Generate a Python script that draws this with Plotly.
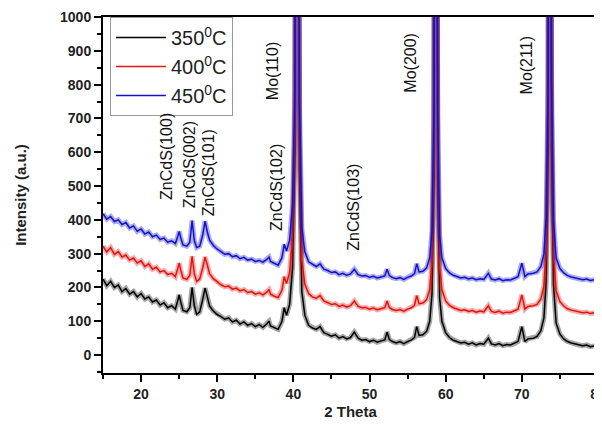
import plotly.graph_objects as go

two_theta = [
    15.0, 15.5, 16.0, 16.5, 17.0, 17.5, 18.0, 18.5, 19.0, 19.5,
    20.0, 20.5, 21.0, 21.5, 22.0, 22.5, 23.0, 23.5, 24.0, 24.5,
    24.8, 25.0, 25.2, 25.5, 26.0, 26.4, 26.7, 27.0, 27.3, 27.7,
    28.1, 28.4, 28.7, 29.0, 29.5, 30.0, 30.5, 31.0, 31.5, 32.0,
    32.5, 33.0, 33.5, 34.0, 34.5, 35.0, 35.5, 36.0, 36.5, 36.8,
    37.0, 37.5, 38.0, 38.5, 38.8, 39.1, 39.5, 39.9, 40.2, 40.5,
    40.8, 41.1, 41.5, 42.0, 42.5, 43.0, 43.5, 44.0, 44.5, 45.0,
    45.5, 46.0, 46.5, 47.0, 47.5, 48.0, 48.5, 49.0, 49.5, 50.0,
    50.5, 51.0, 51.5, 52.0, 52.3, 52.6, 53.0, 53.5, 54.0, 54.5,
    55.0, 55.5, 55.9, 56.2, 56.5, 57.0, 57.5, 57.9, 58.2, 58.45,
    58.7, 58.95, 59.2, 59.5, 60.0, 60.5, 61.0, 61.5, 62.0, 62.5,
    63.0, 63.5, 64.0, 64.5, 65.0, 65.6, 66.0, 66.5, 67.0, 67.5,
    68.0, 68.5, 69.0, 69.5, 70.0, 70.4, 70.8, 71.5, 72.0, 72.5,
    72.9, 73.2, 73.45, 73.66, 73.9, 74.15, 74.5, 75.0, 75.5, 76.0,
    76.5, 77.0, 77.5, 78.0, 78.5, 79.0, 79.5, 80.0,
]

intensity_350 = [
    225, 205, 218, 200, 207, 188, 197, 180, 188, 172,
    182, 166, 172, 157, 163, 148, 155, 140, 146, 136,
    160, 178, 158, 132, 128, 140, 200, 145, 120, 128,
    165, 198, 172, 145, 130, 120, 114, 106, 110, 98,
    103, 92, 98, 88, 93, 84, 90, 82, 92, 100,
    86, 80, 76, 100, 140, 118, 150, 260, 600, 3200,
    560, 190, 118, 88, 80, 76, 84, 66, 62, 56,
    60, 50, 55, 48, 52, 68, 50, 44, 46, 40,
    44, 38, 42, 45, 68, 46, 40, 36, 40, 34,
    40, 45, 52, 84, 58, 60, 70, 100, 180, 520,
    3200, 520, 170, 100, 66, 52, 44, 40, 36, 38,
    32, 36, 30, 34, 32, 50, 33, 30, 34, 28,
    31, 30, 34, 40, 84, 40, 48, 50, 55, 72,
    110, 220, 620, 3200, 620, 210, 95, 62, 48, 40,
    36, 34, 30, 28, 30, 25, 27, 24,
]

intensity_400 = [
    322, 305, 318, 298, 306, 290, 296, 281, 287, 272,
    279, 262, 270, 254, 260, 246, 250, 238, 242, 232,
    255, 272, 252, 228, 224, 236, 292, 240, 218, 225,
    258, 290, 266, 240, 226, 216, 208, 202, 204, 195,
    198, 190, 194, 185, 188, 180, 184, 178, 186, 194,
    180, 174, 170, 192, 232, 212, 244, 352, 690, 3300,
    650, 282, 210, 182, 172, 168, 176, 160, 156, 150,
    152, 144, 148, 142, 146, 160, 144, 140, 141, 136,
    139, 134, 137, 140, 160, 141, 135, 132, 135, 130,
    136, 140, 147, 176, 152, 154, 164, 194, 272, 610,
    3300, 610, 262, 194, 160, 147, 140, 136, 132, 134,
    129, 132, 127, 130, 128, 146, 129, 126, 130, 124,
    127, 126, 130, 136, 178, 136, 144, 146, 150, 166,
    204, 312, 710, 3300, 710, 302, 190, 158, 145, 137,
    133, 131, 127, 125, 127, 123, 125, 122,
]

intensity_450 = [
    418, 402, 410, 395, 400, 386, 392, 376, 382, 366,
    373, 358, 364, 350, 355, 342, 346, 334, 338, 330,
    350, 366, 348, 326, 322, 334, 398, 338, 318, 322,
    356, 396, 364, 340, 324, 313, 306, 298, 300, 291,
    294, 285, 289, 281, 284, 277, 280, 275, 283, 290,
    277, 271, 266, 288, 328, 308, 340, 448, 790, 3400,
    750, 378, 306, 276, 268, 262, 270, 254, 250, 244,
    246, 238, 242, 236, 240, 254, 238, 234, 235, 230,
    233, 228, 231, 234, 254, 235, 229, 226, 229, 224,
    230, 234, 241, 270, 246, 248, 258, 288, 366, 710,
    3400, 710, 356, 288, 256, 243, 236, 232, 228, 230,
    225, 228, 223, 226, 224, 242, 225, 222, 226, 220,
    223, 222, 226, 232, 272, 232, 240, 242, 246, 262,
    300, 408, 810, 3400, 810, 398, 288, 256, 243, 235,
    231, 229, 225, 223, 225, 221, 223, 220,
]

series_names = ["350<sup>0</sup>C", "400<sup>0</sup>C", "450<sup>0</sup>C"]
series_colors = ["#000000", "#e3130f", "#1212cc"]

peak_labels = ["ZnCdS(100)", "ZnCdS(002)", "ZnCdS(101)", "ZnCdS(102)",
               "Mo(110)", "ZnCdS(103)", "Mo(200)", "Mo(211)"]
peak_label_x = [23.4, 26.3, 28.8, 37.7, 37.2, 47.8, 55.4, 70.6]
peak_label_y = [589, 562, 538, 497, 840, 438, 864, 858]

x_ticks = [20, 30, 40, 50, 60, 70, 80]
y_ticks = [0, 100, 200, 300, 400, 500, 600, 700, 800, 900, 1000]

FONT = "Arial, Liberation Sans, sans-serif"

fig = go.Figure()
for name, col, ys in zip(series_names, series_colors,
                         [intensity_350, intensity_400, intensity_450]):
    # soft halo imitating the noise band of the measured pattern
    fig.add_trace(go.Scatter(x=two_theta, y=ys, mode="lines", showlegend=False,
                             hoverinfo="skip", opacity=0.35,
                             line=dict(color=col, width=5)))
    fig.add_trace(go.Scatter(x=two_theta, y=ys, mode="lines", name=name,
                             line=dict(color=col, width=1.5)))

for txt, px, py in zip(peak_labels, peak_label_x, peak_label_y):
    fig.add_annotation(x=px, y=py, xref="x", yref="y", text=txt,
                       textangle=-90, showarrow=False,
                       xanchor="center", yanchor="middle",
                       font=dict(family=FONT, size=16, color="#111111"))

axis_common = dict(
    showline=True, linecolor="black", linewidth=2, mirror=True,
    ticks="outside", ticklen=7, tickwidth=2, tickcolor="black",
    showgrid=False, zeroline=False, automargin=False,
    ticklabeloverflow="allow",
    tickfont=dict(family=FONT, size=14, color="#222222", weight="bold"),
)

# the page body has an 8px margin, so the figure is drawn 8px right and down
fig.update_layout(
    width=594, height=417,
    margin=dict(l=95, r=4, t=9, b=52),
    plot_bgcolor="white", paper_bgcolor="white",
    showlegend=True,
    legend=dict(x=0.014, y=1.0, xanchor="left", yanchor="top",
                bgcolor="white", bordercolor="#999999", borderwidth=1,
                font=dict(family=FONT, size=20, color="#222222"),
                itemwidth=50, tracegroupgap=0),
    xaxis=dict(range=[15, 80], tickvals=x_ticks,
               minor=dict(dtick=5, ticks="outside", ticklen=4, tickwidth=2, tickcolor="black"),
               title=dict(text="<b>2 Theta</b>", font=dict(family=FONT, size=15, color="#222222"),
                          standoff=6),
               **axis_common),
    yaxis=dict(range=[-53, 1000], tickvals=y_ticks,
               minor=dict(dtick=50, ticks="outside", ticklen=4, tickwidth=2, tickcolor="black"),
               title=dict(text="<b>Intensity (a.u.)</b>", font=dict(family=FONT, size=15, color="#222222"),
                          standoff=30),
               **axis_common),
)

fig.write_html("out.html")
